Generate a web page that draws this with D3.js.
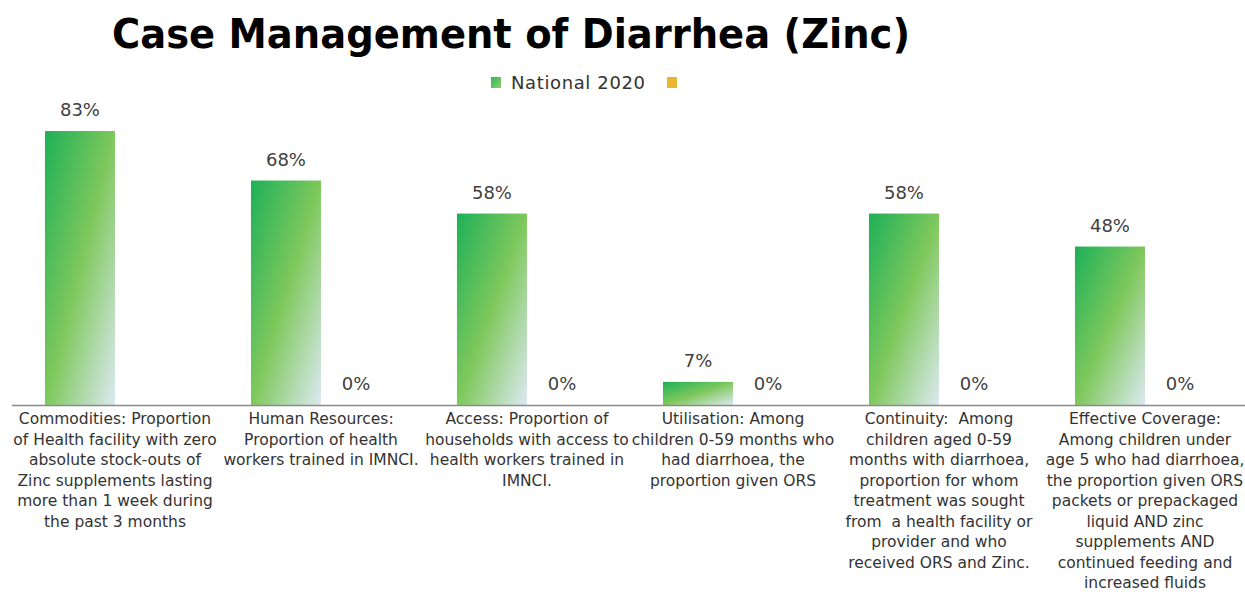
<!DOCTYPE html>
<html>
<head>
<meta charset="utf-8">
<script src="https://cdn.jsdelivr.net/npm/d3@7"></script>
<style>
  body { margin: 0; background: #fff; }
  svg { display: block; }
  .cat { white-space: pre; }
</style>
</head>
<body>
<svg id="chart" width="1245" height="596"></svg>
<script>
// chart data
const categories = [
  ["Commodities: Proportion", "of Health facility with zero", "absolute stock-outs of", "Zinc supplements lasting", "more than 1 week during", "the past 3 months"],
  ["Human Resources:", "Proportion of health", "workers trained in IMNCI."],
  ["Access: Proportion of", "households with access to", "health workers trained in", "IMNCI."],
  ["Utilisation: Among", "children 0-59 months who", "had diarrhoea, the", "proportion given ORS"],
  ["Continuity:  Among", "children aged 0-59", "months with diarrhoea,", "proportion for whom", "treatment was sought", "from  a health facility or", "provider and who", "received ORS and Zinc."],
  ["Effective Coverage:", "Among children under", "age 5 who had diarrhoea,", "the proportion given ORS", "packets or prepackaged", "liquid AND zinc", "supplements AND", "continued feeding and", "increased fluids"]
];
const seriesNames = ["National 2020", ""];
const national2020 = [83, 68, 58, 7, 58, 48];
const secondSeries = [null, 0, 0, 0, 0, 0];
const seriesColors = ["url(#greenGrad)", "#e8b730"];

const svg = d3.select("#chart");
const baseY = 405, topY = 131;

// gradient for the green bars
const defs = svg.append("defs");
const grad = defs.append("linearGradient")
    .attr("id", "greenGrad")
    .attr("x1", 0).attr("y1", 0).attr("x2", 1).attr("y2", 1);
grad.append("stop").attr("offset", "0%").attr("stop-color", "#1eb058");
grad.append("stop").attr("offset", "50%").attr("stop-color", "#7ec85c");
grad.append("stop").attr("offset", "100%").attr("stop-color", "#dde9f2");

const legendGrad = defs.append("linearGradient")
    .attr("id", "legendGrad")
    .attr("x1", 0).attr("y1", 0).attr("x2", 1).attr("y2", 1);
legendGrad.append("stop").attr("offset", "0%").attr("stop-color", "#2fb55a");
legendGrad.append("stop").attr("offset", "100%").attr("stop-color", "#8fd06a");

// scales
const x0 = d3.scaleBand()
    .domain(d3.range(categories.length))
    .range([12, 1248])
    .paddingInner(0.32)
    .paddingOuter(0.16);
const x1 = d3.scaleBand()
    .domain([0, 1])
    .range([0, x0.bandwidth()]);
const y = d3.scaleLinear()
    .domain([0, 83])
    .range([baseY, topY]);

// title
svg.append("text")
    .attr("x", 511).attr("y", 48)
    .attr("text-anchor", "middle")
    .attr("font-family", "DejaVu Sans")
    .attr("font-weight", "bold")
    .attr("font-size", 40)
    .attr("textLength", 798)
    .attr("lengthAdjust", "spacingAndGlyphs")
    .attr("fill", "#000")
    .text("Case Management of Diarrhea (Zinc)");

// legend
const legend = svg.append("g").attr("transform", "translate(491,77)");
legend.append("rect").attr("width", 10).attr("height", 11).attr("fill", "url(#legendGrad)");
legend.append("text")
    .attr("x", 20).attr("y", 12)
    .attr("font-family", "DejaVu Sans")
    .attr("font-size", 18)
    .attr("textLength", 134)
    .attr("fill", "#333")
    .text(seriesNames[0]);
legend.append("rect").attr("x", 176).attr("width", 10).attr("height", 11).attr("fill", seriesColors[1]);

// bars
const groups = svg.append("g")
    .selectAll("g")
    .data(categories.map((c, i) => ({ i, vals: [national2020[i], secondSeries[i]] })))
    .enter().append("g")
    .attr("transform", d => "translate(" + x0(d.i) + ",0)");

groups.selectAll("rect")
    .data(d => d.vals.map((v, s) => ({ v, s })).filter(e => e.v !== null))
    .enter().append("rect")
    .attr("x", e => x1(e.s))
    .attr("y", e => y(e.v))
    .attr("width", x1.bandwidth())
    .attr("height", e => baseY - y(e.v))
    .attr("fill", e => seriesColors[e.s]);

groups.selectAll("text.val")
    .data(d => d.vals.map((v, s) => ({ v, s })).filter(e => e.v !== null))
    .enter().append("text")
    .attr("class", "val")
    .attr("x", e => x1(e.s) + x1.bandwidth() / 2)
    .attr("y", e => y(e.v) - 15)
    .attr("text-anchor", "middle")
    .attr("font-family", "DejaVu Sans")
    .attr("font-size", 18)
    .attr("fill", "#404040")
    .text(e => e.v + "%");

// axis line
svg.append("line")
    .attr("x1", 12).attr("x2", 1245)
    .attr("y1", baseY + 0.5).attr("y2", baseY + 0.5)
    .attr("stroke", "#8a8a8a")
    .attr("stroke-width", 1.5);

// category labels
svg.append("g")
    .selectAll("text")
    .data(categories)
    .enter().append("text")
    .attr("class", "cat")
    .attr("text-anchor", "middle")
    .attr("font-family", "DejaVu Sans")
    .attr("font-size", 15.5)
    .attr("fill", "#333")
    .each(function (lines, i) {
        const cx = x0(i) + x0.bandwidth() / 2;
        d3.select(this).selectAll("tspan")
            .data(lines)
            .enter().append("tspan")
            .attr("x", cx)
            .attr("y", (l, k) => 424 + k * 20.5)
            .text(l => l);
    });
</script>
</body>
</html>
